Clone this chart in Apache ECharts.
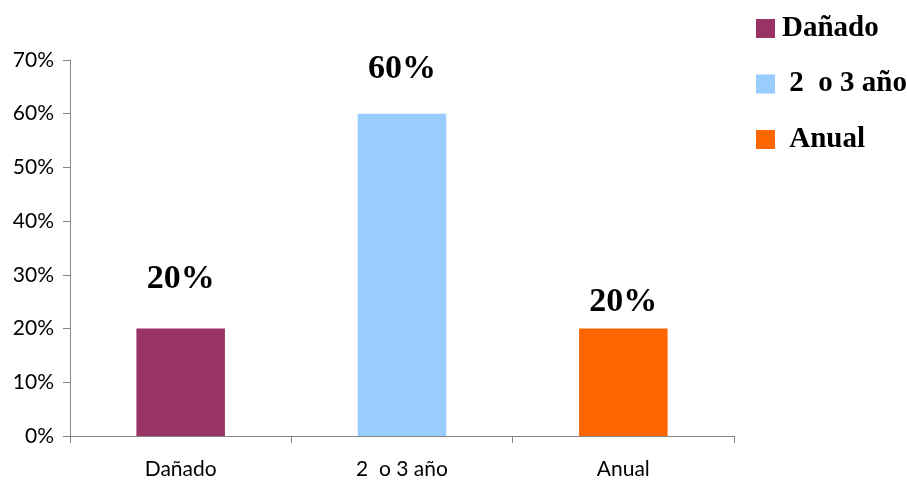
<!DOCTYPE html>
<html><head><meta charset="utf-8">
<script src="https://cdn.jsdelivr.net/npm/echarts@6/dist/echarts.min.js"></script>
<style>html,body{margin:0;padding:0;background:#fff}#c{width:907px;height:483px}</style>
</head><body><div id="c"></div>
<script>
const categories = ['Dañado', '2  o 3 año', 'Anual'];
const values = [20, 60, 20];
const colors = ['#993366', '#99CCFF', '#FF6600'];
const labelDistances = [32, 27, 9];
const yTicks = [0, 10, 20, 30, 40, 50, 60, 70];

const chart = echarts.init(document.getElementById('c'));
const series = categories.map((name, i) => ({
  name: name,
  type: 'bar',
  stack: 'all',
  barWidth: '40%',
  itemStyle: { color: colors[i] },
  data: categories.map((c, j) => j === i ? values[i] : '-'),
  label: {
    show: true,
    position: 'top',
    distance: labelDistances[i],
    formatter: p => p.value + '%',
    fontFamily: 'Liberation Serif',
    fontWeight: 'bold',
    fontSize: 34,
    color: '#000'
  }
}));
chart.setOption({
  animation: false,
  grid: { left: 70, right: 173, top: 60, bottom: 47 },
  legend: {
    orient: 'vertical',
    left: 751,
    top: 9,
    itemWidth: 19,
    itemHeight: 19,
    itemGap: 26.5,
    icon: 'rect',
    data: categories,
    formatter: n => n === 'Dañado' ? n : ' ' + n,
    textStyle: { fontFamily: 'Liberation Serif', fontWeight: 'bold', fontSize: 29, color: '#000', lineHeight: 29, padding: [0, 0, 0, 2] }
  },
  xAxis: {
    type: 'category',
    data: categories,
    axisLine: { lineStyle: { color: '#868686', width: 1 } },
    axisTick: { show: true, length: 7, lineStyle: { color: '#868686' } },
    axisLabel: { fontFamily: 'Lato', fontSize: 21, color: '#000', margin: 23 }
  },
  yAxis: {
    type: 'value',
    min: 0, max: 70, interval: 10,
    splitLine: { show: false },
    axisLine: { show: true, lineStyle: { color: '#868686', width: 1 } },
    axisTick: { show: true, length: 7, lineStyle: { color: '#868686' } },
    axisLabel: { fontFamily: 'Lato', fontSize: 21, color: '#000', margin: 16,
      formatter: v => yTicks.includes(v) ? v + '%' : '' }
  },
  series: series
});
</script></body></html>
